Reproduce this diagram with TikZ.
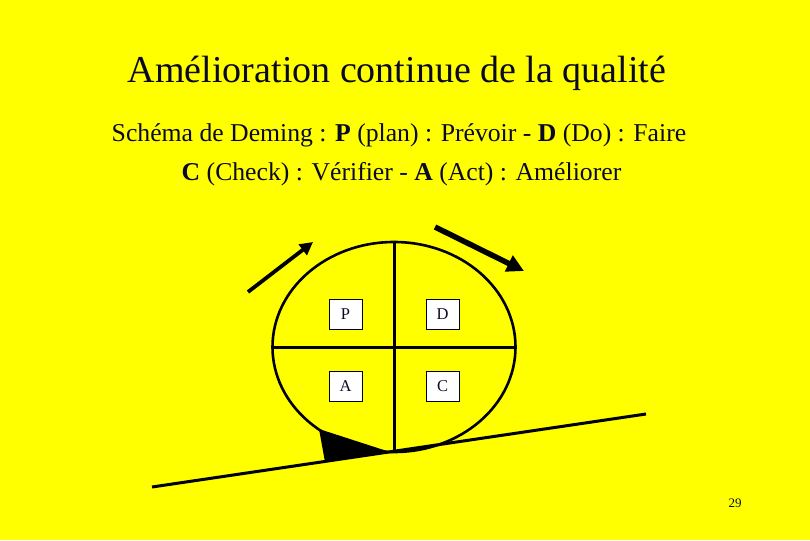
\documentclass[tikz,border=0pt]{standalone}
\usepackage{fontspec}
\setmainfont{Liberation Serif}
\usetikzlibrary{arrows.meta,shapes.geometric}
\definecolor{bg}{RGB}{255,255,0}
\definecolor{ink}{RGB}{10,10,40}
\begin{document}
\begin{tikzpicture}[x=1pt,y=-1pt,
  letterbox/.style={draw=black,line width=0.8pt,fill=white,minimum width=33pt,minimum height=30pt,inner sep=0pt,font=\fontsize{16.5}{18}\selectfont,text=ink},
  thick line/.style={line width=3pt,draw=black}]
\fill[bg] (0,0) rectangle (810,540);
\useasboundingbox (0,0) rectangle (810,540);
% title
\node[text=ink,font=\fontsize{38}{44}\selectfont,anchor=base] (title) at (397,83) {Amélioration continue de la qualité};
\node[text=ink,font=\fontsize{25.7}{30}\selectfont,anchor=base] (sub1) at (399,142) {Schéma de Deming : \textbf{P} (plan) : Prévoir - \textbf{D} (Do) : Faire};
\node[text=ink,font=\fontsize{25.7}{30}\selectfont,anchor=base] (sub2) at (401.5,180) {\textbf{C} (Check) : Vérifier - \textbf{A} (Act) : Améliorer};
% ground line
\coordinate (g1) at (152,487);
\coordinate (g2) at (646,414);
\draw[thick line] (g1) -- (g2);
% wedge
\coordinate (w1) at (319,429);
\coordinate (w2) at (390,452);
\coordinate (w3) at (325,462);
\fill[black] (w1) -- (w2) -- (w3) -- cycle;
% wheel
\node[draw=black,line width=2.6pt,ellipse,minimum width=243pt,minimum height=210pt,inner sep=0pt] (wheel) at (394,347) {};
\draw[thick line] (wheel.north) -- (wheel.south);
\draw[thick line] (wheel.west) -- (wheel.east);
% letter boxes
\node[letterbox] (P) at (345.5,314) {P};
\node[letterbox] (D) at (442.5,314) {D};
\node[letterbox] (A) at (345.5,386) {A};
\node[letterbox] (C) at (442.5,386) {C};
% arrows
\coordinate (a1s) at (248,292);
\coordinate (a1e) at (313,242);
\draw[line width=3.8pt,-{Triangle[length=13pt,width=13pt]}] (a1s) -- (a1e);
\coordinate (a2s) at (435,227);
\coordinate (a2e) at (524,271);
\draw[line width=5.5pt,-{Triangle[length=17pt,width=17pt]}] (a2s) -- (a2e);
% page number
\node[text=ink,font=\fontsize{13}{15}\selectfont] (page) at (735,503) {29};
\end{tikzpicture}
\end{document}
